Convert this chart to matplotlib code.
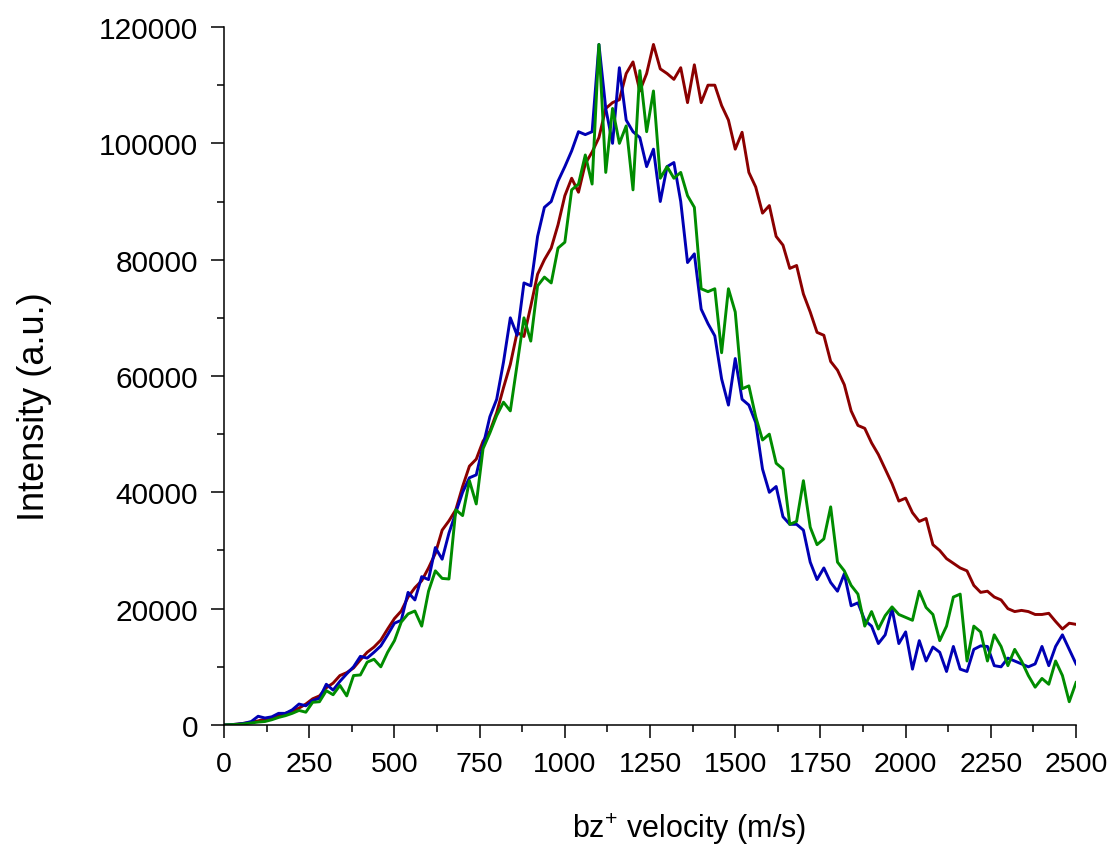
import numpy as np
import matplotlib
matplotlib.use("Agg")
import matplotlib.pyplot as plt
from matplotlib.ticker import MultipleLocator

plt.rcParams['font.family'] = ['Liberation Sans', 'DejaVu Sans']
plt.rcParams['mathtext.fontset'] = 'custom'
plt.rcParams['mathtext.rm'] = 'Liberation Sans'

# velocity grid (m/s), step 20
velocity = np.arange(0, 2501, 20)

# intensities in units of 1000 (a.u.)
red_k = [0, 0.05, 0.15, 0.3, 0.45, 0.7, 1.0, 1.3, 1.6, 2.0,
         2.4, 2.9, 3.6, 4.5, 5.0, 6.4, 7.2, 8.5, 9.0, 9.8,
         11.2, 12.5, 13.4, 14.6, 16.5, 18.3, 19.6, 22.0, 23.6, 24.8,
         27.0, 29.5, 33.5, 35.1, 37.0, 41.0, 44.5, 45.7, 48.8, 50.5,
         53.7, 58.0, 62.0, 67.5, 66.8, 72.0, 77.5, 80.0, 82.0, 86.0,
         91.0, 94.0, 91.6, 96.5, 98.5, 101.0, 106.0, 107.0, 107.5, 112.0,
         114.0, 109.0, 112.0, 117.0, 112.8, 112.0, 111.0, 113.0, 107.0, 113.5,
         107.0, 110.0, 110.0, 106.5, 104.0, 99.0, 101.9, 95.0, 92.5, 88.0,
         89.3, 84.0, 82.5, 78.5, 79.0, 74.1, 71.0, 67.5, 67.0, 62.5,
         61.0, 58.5, 54.0, 51.5, 51.0, 48.5, 46.5, 44.0, 41.5, 38.5,
         39.0, 36.5, 35.0, 35.5, 31.0, 30.0, 28.6, 27.8, 27.0, 26.5,
         24.0, 22.8, 23.0, 22.0, 21.5, 20.0, 19.5, 19.7, 19.5, 19.0,
         19.0, 19.2, 17.8, 16.5, 17.5, 17.3]

blue_k = [0, 0.05, 0.15, 0.3, 0.6, 1.5, 1.2, 1.4, 2.0, 2.0,
          2.6, 3.6, 3.3, 4.2, 4.6, 7.0, 6.0, 7.5, 8.8, 10.0,
          11.8, 11.5, 12.5, 13.6, 15.5, 17.5, 18.0, 22.8, 21.5, 25.5,
          25.0, 30.5, 28.5, 33.0, 36.5, 40.0, 42.5, 43.0, 48.0, 53.0,
          56.0, 62.4, 70.0, 67.0, 76.0, 75.5, 84.0, 89.0, 90.0, 93.5,
          96.0, 98.7, 102.0, 101.5, 102.0, 117.0, 106.0, 100.0, 113.0, 104.0,
          102.0, 101.0, 96.0, 99.0, 90.0, 96.0, 96.7, 90.0, 79.5, 81.0,
          71.5, 69.0, 66.9, 59.5, 55.0, 63.0, 56.0, 55.0, 52.0, 44.0,
          40.0, 41.0, 35.8, 34.5, 34.5, 33.5, 28.0, 25.0, 27.0, 24.5,
          23.0, 26.0, 20.5, 21.0, 18.0, 17.0, 14.0, 15.5, 20.0, 14.0,
          16.0, 9.6, 14.5, 11.0, 13.4, 12.5, 9.2, 13.5, 9.6, 9.2,
          13.0, 13.6, 13.5, 10.2, 10.0, 11.5, 11.0, 10.5, 10.0, 10.5,
          13.5, 10.2, 13.5, 15.5, 13.0, 10.5]

green_k = [0, 0.05, 0.1, 0.2, 0.35, 0.5, 0.6, 0.9, 1.3, 1.6,
           2.0, 2.5, 2.2, 3.9, 4.0, 5.9, 5.2, 6.8, 5.0, 8.5,
           8.6, 10.8, 11.3, 10.0, 12.5, 14.5, 17.7, 19.1, 19.6, 17.0,
           23.0, 26.5, 25.2, 25.1, 37.0, 36.0, 42.0, 38.0, 47.5, 50.2,
           53.2, 55.5, 54.0, 62.0, 70.0, 66.0, 75.5, 77.0, 76.0, 82.0,
           83.0, 92.0, 93.0, 98.0, 93.0, 117.0, 95.0, 106.0, 100.0, 103.0,
           92.0, 112.5, 102.0, 109.0, 94.0, 96.0, 94.0, 95.0, 91.0, 89.0,
           75.0, 74.5, 75.0, 64.0, 75.0, 71.0, 57.8, 58.3, 53.0, 49.0,
           50.0, 45.0, 44.0, 34.5, 35.0, 42.0, 34.0, 31.0, 32.0, 37.5,
           28.0, 26.5, 24.0, 22.5, 17.0, 19.5, 16.5, 18.8, 20.3, 19.0,
           18.5, 18.0, 23.0, 20.2, 19.0, 14.5, 17.0, 22.0, 22.5, 11.0,
           17.0, 16.0, 11.0, 15.5, 13.5, 10.2, 13.0, 11.0, 8.5, 6.5,
           8.0, 7.0, 11.0, 8.5, 4.0, 7.3]

red = np.array(red_k) * 1000
blue = np.array(blue_k) * 1000
green = np.array(green_k) * 1000

fig = plt.figure(figsize=(11.13, 8.54), dpi=100)
ax = fig.add_axes([0.2013, 0.1499, 0.7655, 0.8173])

ax.plot(velocity, red, color='#8b0000', lw=2.1)
ax.plot(velocity, blue, color='#0000b4', lw=2.1)
ax.plot(velocity, green, color='#008c00', lw=2.1)

ax.set_xlim(0, 2500)
ax.set_ylim(0, 120000)
ax.xaxis.set_major_locator(MultipleLocator(250))
ax.xaxis.set_minor_locator(MultipleLocator(125))
ax.yaxis.set_major_locator(MultipleLocator(20000))
ax.yaxis.set_minor_locator(MultipleLocator(10000))

for side in ['top', 'right']:
    ax.spines[side].set_visible(False)
for side in ['left', 'bottom']:
    ax.spines[side].set_linewidth(1.1)

ax.tick_params(which='major', direction='out', length=9.5, width=1.1, pad=9)
ax.tick_params(which='minor', direction='out', length=5, width=1.1)
ax.tick_params(axis='y', labelsize=21.5)
ax.tick_params(axis='x', labelsize=20.5)

ax.set_xlabel('bz$^{+}$ velocity (m/s)', fontsize=22)
ax.set_ylabel('Intensity (a.u.)', fontsize=26)
ax.xaxis.set_label_coords(0.546, -0.122)
ax.yaxis.set_label_coords(-0.202, 0.457)

fig.savefig('out.png', dpi=100)
